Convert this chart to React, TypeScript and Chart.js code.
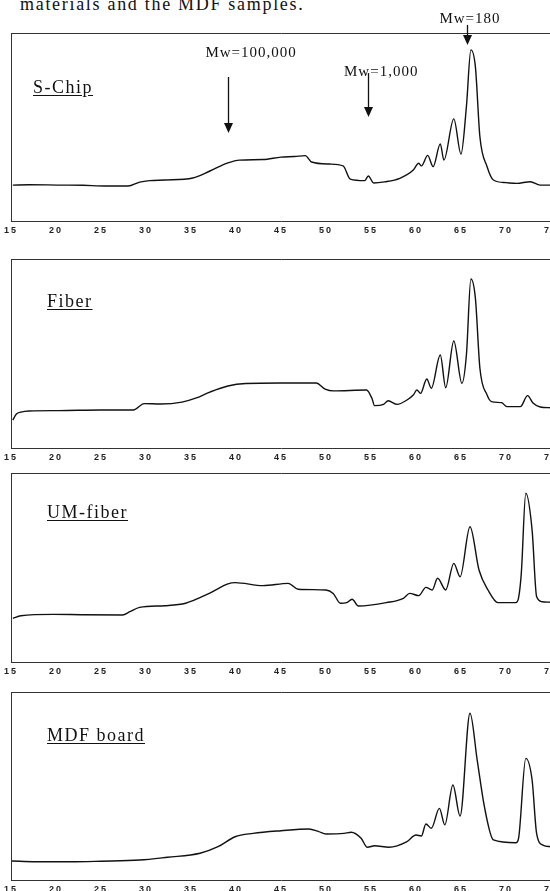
import React, { useEffect, useRef } from 'react';
import { Chart, registerables } from 'chart.js';
Chart.register(...registerables);

// ---- data (x: elution time, y: detector response, % of panel height) ----
const xTickStep = 5;
const xMin = 15;
const xMax = 75;

const chipX = [15.2, 17, 20.4, 23, 25.4, 28, 29.3, 30.4, 32.1, 35.2, 37.1, 39.1, 40.4, 43, 45, 46.5, 47.7, 48.4, 50.4, 51.9, 52.7, 54.3, 54.7, 55.3, 56.5, 58.2, 59.7, 60.3, 60.6, 61.3, 61.9, 62.7, 63.1, 64.2, 65.0, 65.6, 66.1, 66.6, 67.1, 67.9, 68.6, 70, 71.2, 72.7, 73.8, 75];
const chipY = [19.1, 19.3, 19.1, 19, 18.6, 18.6, 20.7, 21.5, 21.8, 22.9, 26.6, 30.9, 32.4, 32.7, 34, 34.3, 34.8, 31.4, 30.3, 29.3, 22.3, 21.5, 23.9, 20.2, 20.8, 22.7, 27.1, 30.7, 29.3, 34.9, 28.9, 41, 32.4, 54.3, 35.6, 60.8, 91, 82, 44.8, 28.9, 21.8, 20.4, 20, 20.9, 19.1, 19.1];

const fiberX = [15.2, 15.6, 16.1, 17, 20.4, 24.9, 28.6, 29.8, 31.6, 34, 35.6, 37.1, 39.1, 41.1, 44.9, 48.9, 49.9, 50.8, 54.5, 55.1, 55.4, 56.4, 56.9, 57.9, 59, 59.7, 60.1, 60.5, 61.2, 61.7, 62.7, 63.3, 64.2, 65.1, 65.6, 66.1, 66.6, 67.1, 67.9, 68.4, 69.5, 70.1, 71.6, 72.4, 73, 73.8, 75];
const fiberY = [14.8, 18, 19, 19.6, 19.8, 20.1, 20.1, 23.5, 23.3, 24.3, 26.5, 29.6, 32.8, 34.1, 34.4, 34.4, 31.2, 30.2, 30.7, 26.3, 22.4, 23.1, 25, 23.1, 25.4, 28, 30.7, 28.9, 36.5, 31.6, 49.2, 31.9, 56.6, 34.2, 49.2, 89.4, 79.2, 42.2, 28, 24.5, 24, 21.9, 21.9, 27.7, 23.8, 21.7, 21.3];

const umX = [15.2, 16.1, 19.7, 23, 27.4, 28.2, 29.3, 32.1, 34.4, 37.2, 39.1, 39.9, 43, 45.8, 46.9, 50, 50.8, 51.6, 52.3, 52.9, 53.6, 56.7, 58.6, 59.3, 60.3, 61.1, 61.8, 62.4, 63.3, 64.2, 64.9, 66.0, 67.0, 68.0, 69.1, 71.1, 71.4, 71.7, 72.2, 72.9, 73.4, 74.0, 75];
const umY = [23.1, 24.5, 25.2, 25, 24.9, 26.6, 28.9, 29.8, 31.1, 36.7, 41.3, 42, 40.4, 41.6, 38.5, 38.1, 36.3, 31.1, 31.4, 33.2, 29.6, 31.4, 33.7, 36.3, 35.1, 39.5, 38.1, 44.3, 38.1, 52.2, 45.1, 71.6, 48.7, 38.1, 31.4, 31.4, 34, 46.9, 89.3, 69.8, 34.6, 31.9, 31.6];

const mdfX = [15.1, 17.7, 21.6, 25, 29.3, 32.4, 36, 38, 39.9, 41.9, 45, 48.1, 49.2, 50, 52, 52.8, 53.9, 54.6, 55.4, 57, 59, 60, 60.6, 61.1, 61.7, 62.6, 63.2, 64.1, 64.9, 66.0, 66.8, 67.6, 68.6, 71.1, 71.4, 72.2, 72.9, 73.4, 74.1, 75];
const mdfY = [10.1, 9.7, 9.7, 10.0, 10.6, 12.1, 14.2, 17.7, 23, 24.8, 26.2, 27.1, 25.7, 24.5, 24.8, 25.4, 22.2, 17.4, 18.2, 17.4, 20.4, 23.9, 23.4, 29.8, 27.5, 38.1, 29.3, 50.5, 34, 88.7, 63.8, 39, 21.3, 19.8, 22.3, 64.7, 53.2, 24.8, 18.6, 17.7];

const sampleNames = ['S-Chip', 'Fiber', 'UM-fiber', 'MDF board'];

// molecular-weight markers (S-Chip panel)
const mwLabels = ['Mw=100,000', 'Mw=1,000', 'Mw=180'];
const mwLabelX = [36.6, 52.0, 62.6];
const mwLabelY = [87.2, 77.1, 105.3];
const mwArrowX = [39.1, 54.7, 65.7];
const mwArrowTop = [76.6, 78.7, 104.3];
const mwArrowTip = [46.8, 55.3, 93.6];

const caption = 'materials and the MDF samples.';

// ---- layout ----
const panels = [
  { xs: chipX, ys: chipY, top: 33, axis: 221, canvasTop: 0, nameTop: 78, nameLeft: 33, mw: true },
  { xs: fiberX, ys: fiberY, top: 259, axis: 448, canvasTop: 249, nameTop: 292, nameLeft: 47, mw: false },
  { xs: umX, ys: umY, top: 473, axis: 662, canvasTop: 463, nameTop: 503, nameLeft: 47, mw: false },
  { xs: mdfX, ys: mdfY, top: 692, axis: 880, canvasTop: 682, nameTop: 726, nameLeft: 47, mw: false },
];

const CANVAS_W = 560;
const LABEL_H = 16;

const tickSpacingPlugin = {
  id: 'tickSpacing',
  beforeDraw(chart: any) {
    chart.ctx.letterSpacing = '2px';
  },
  afterDraw(chart: any) {
    chart.ctx.letterSpacing = '0px';
  },
};

const mwPlugin = {
  id: 'mwMarkers',
  afterDraw(chart: any) {
    const opts = chart.options.plugins && chart.options.plugins.mwMarkers;
    if (!opts || !opts.enabled) return;
    const { ctx } = chart;
    const x = chart.scales.x;
    const y = chart.scales.y;
    ctx.save();
    ctx.letterSpacing = '1px';
    ctx.font = '15px "Liberation Serif", "Times New Roman", serif';
    ctx.fillStyle = '#111';
    ctx.strokeStyle = '#111';
    ctx.lineWidth = 1.3;
    ctx.textAlign = 'left';
    ctx.textBaseline = 'alphabetic';
    mwLabels.forEach((t, i) => {
      ctx.fillText(t, x.getPixelForValue(mwLabelX[i]), y.getPixelForValue(mwLabelY[i]));
      const px = Math.round(x.getPixelForValue(mwArrowX[i])) + 0.5;
      const y0 = y.getPixelForValue(mwArrowTop[i]);
      const y1 = y.getPixelForValue(mwArrowTip[i]);
      ctx.beginPath();
      ctx.moveTo(px, y0);
      ctx.lineTo(px, y1 - 8);
      ctx.stroke();
      ctx.beginPath();
      ctx.moveTo(px - 4.5, y1 - 10);
      ctx.lineTo(px + 4.5, y1 - 10);
      ctx.lineTo(px, y1);
      ctx.closePath();
      ctx.fill();
    });
    ctx.restore();
  },
};

function Panel({ p }: { p: any }) {
  const ref = useRef<HTMLCanvasElement>(null);
  const padTop = p.top - p.canvasTop;
  const plotH = p.axis - p.top;
  const H = padTop + plotH + LABEL_H;

  useEffect(() => {
    if (!ref.current) return;
    const data = p.xs.map((xv: number, i: number) => ({ x: xv, y: p.ys[i] }));
    const chart = new Chart(ref.current, {
      type: 'line',
      data: {
        datasets: [
          {
            data,
            borderColor: '#111',
            borderWidth: 1.4,
            pointRadius: 0,
            fill: false,
            cubicInterpolationMode: 'monotone',
          },
        ],
      },
      options: {
        animation: false,
        responsive: false,
        devicePixelRatio: 1,
        layout: { padding: { top: padTop, left: 11, right: CANVAS_W - 551, bottom: 0 } },
        plugins: {
          legend: { display: false },
          tooltip: { enabled: false },
          mwMarkers: { enabled: p.mw },
        } as any,
        scales: {
          x: {
            type: 'linear',
            position: 'bottom',
            min: xMin,
            max: xMax,
            grid: { display: false, drawTicks: false },
            border: { display: true, color: '#333', width: 1 },
            ticks: {
              stepSize: xTickStep,
              autoSkip: false,
              maxRotation: 0,
              padding: 4,
              color: '#222',
              font: { family: '"Liberation Sans", Arial, sans-serif', size: 9, weight: 'bold' },
            },
            afterFit: (s: any) => {
              s.height = LABEL_H;
              s.paddingLeft = 0;
              s.paddingRight = 0;
            },
          },
          xTop: {
            type: 'linear',
            position: 'top',
            min: xMin,
            max: xMax,
            grid: { display: false, drawTicks: false },
            border: { display: true, color: '#333', width: 1 },
            ticks: { display: false },
            afterFit: (s: any) => {
              s.height = 0;
              s.paddingLeft = 0;
              s.paddingRight = 0;
            },
          },
          y: {
            type: 'linear',
            min: 0,
            max: 100,
            grid: { display: false, drawTicks: false },
            border: { display: true, color: '#333', width: 1 },
            ticks: { display: false },
            afterFit: (s: any) => {
              s.width = 0;
              s.paddingTop = 0;
              s.paddingBottom = 0;
            },
          },
        },
      } as any,
      plugins: [tickSpacingPlugin, mwPlugin],
    });
    return () => chart.destroy();
  }, []);

  return (
    <canvas
      ref={ref}
      width={CANVAS_W}
      height={H}
      style={{ position: 'absolute', left: 0, top: p.canvasTop, width: CANVAS_W, height: H }}
    />
  );
}

const nameStyle: React.CSSProperties = {
  position: 'absolute',
  fontFamily: '"Liberation Serif", "Times New Roman", serif',
  fontSize: 18,
  lineHeight: '18px',
  letterSpacing: '1.5px',
  textDecoration: 'underline',
  textUnderlineOffset: '2px',
  color: '#111',
  whiteSpace: 'nowrap',
};

export default function App() {
  return (
    <div
      style={{
        position: 'fixed',
        left: 0,
        top: 0,
        width: 550,
        height: 891,
        overflow: 'hidden',
        background: '#fff',
      }}
    >
      <div
        style={{
          position: 'absolute',
          left: 20,
          top: -5,
          fontFamily: '"Liberation Serif", "Times New Roman", serif',
          fontSize: 18,
          lineHeight: '18px',
          letterSpacing: '1.7px',
          color: '#111',
          whiteSpace: 'nowrap',
        }}
      >
        {caption}
      </div>
      {panels.map((p, i) => (
        <Panel key={i} p={p} />
      ))}
      {panels.map((p, i) => (
        <div key={'n' + i} style={{ ...nameStyle, left: p.nameLeft, top: p.nameTop }}>
          {sampleNames[i]}
        </div>
      ))}
    </div>
  );
}
